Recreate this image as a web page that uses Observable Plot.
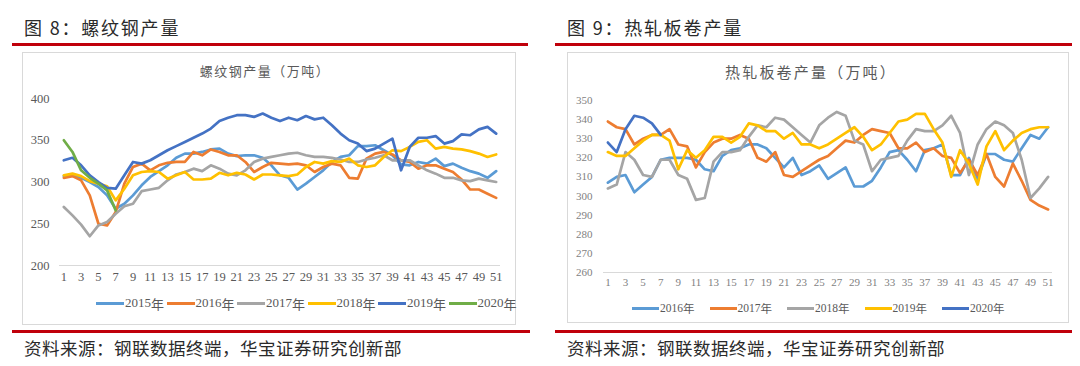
<!DOCTYPE html>
<html>
<head>
<meta charset="utf-8">
<script src="https://cdn.jsdelivr.net/npm/d3@7"></script>
<script src="https://cdn.jsdelivr.net/npm/@observablehq/plot@0.6"></script>
<style>
  html, body { margin: 0; padding: 0; background: #fff; }
  body { width: 1080px; height: 366px; position: relative; overflow: hidden; font-family: "Noto Sans CJK SC", sans-serif; }
  .abs { position: absolute; }
  .title { font-size: 18px; color: #2a2a2a; white-space: nowrap; letter-spacing: 1.8px; }
  .redline { background: #c0000b; height: 3px; }
  .box { border: 1px solid #d9d9d9; box-sizing: border-box; }
  .caption { font-size: 17.5px; color: #2a2a2a; white-space: nowrap; letter-spacing: 0.5px; }
  .inner { color: #595959; white-space: nowrap; text-align: center; }
  .leg { display: flex; align-items: center; white-space: nowrap; font-family: "Liberation Serif", serif; color: #595959; }
  .leg .sw { height: 3px; margin-right: 1px; }
  .leg .cjk { font-family: "Noto Sans CJK SC", sans-serif; }
  svg { position: absolute; overflow: visible; background: transparent; }
</style>
</head>
<body>
<script>
// ---------- categories ----------
const weeks = [1,2,3,4,5,6,7,8,9,10,11,12,13,14,15,16,17,18,19,20,21,22,23,24,25,26,27,28,29,30,31,32,33,34,35,36,37,38,39,40,41,42,43,44,45,46,47,48,49,50,51];
const xTickLabels = [1,3,5,7,9,11,13,15,17,19,21,23,25,27,29,31,33,35,37,39,41,43,45,47,49,51];
const rebarYTicks = [200,250,300,350,400];
const hrcYTicks = [260,270,280,290,300,310,320,330,340,350];

// ---------- 螺纹钢产量（万吨） ----------
const rebarNames = ["2015年","2016年","2017年","2018年","2019年","2020年"];
const rebar2015 = [307,309,305,300,294,284,268,274,284,296,306,313,320,329,334,334,336,339,340,334,331,332,332,329,320,308,305,291,298,306,314,324,330,332,343,343,344,338,332,321,320,324,322,328,319,322,317,313,310,305,313];
const rebar2016 = [305,307,302,284,250,248,264,298,318,322,314,320,323,324,324,336,332,339,336,332,332,324,312,318,323,322,321,322,320,312,318,322,320,305,304,328,334,336,333,326,324,316,320,320,316,312,303,291,291,286,281];
const rebar2017 = [270,260,249,235,248,252,262,271,274,289,291,293,302,309,312,316,313,320,316,310,308,314,324,328,330,332,334,335,332,330,330,329,327,324,324,327,329,332,326,326,326,320,314,310,305,305,302,301,304,302,300];
const rebar2018 = [308,310,307,301,298,295,278,292,308,312,313,312,304,308,312,303,303,304,311,308,311,309,303,309,309,308,307,309,318,324,322,325,324,328,320,318,320,330,338,337,342,348,350,340,342,340,339,337,334,330,333];
const rebar2019 = [326,329,320,308,300,293,292,308,324,322,326,332,338,343,348,353,358,364,373,377,380,380,378,382,377,373,377,374,379,375,377,368,358,350,346,337,340,346,352,314,342,353,353,355,346,349,357,356,363,366,358];
const rebar2020 = [350,336,314,305,298,290,266];
const rebarColors = ["#5b9bd5","#ed7d31","#a5a5a5","#ffc000","#4472c4","#70ad47"];

// ---------- 热轧板卷产量（万吨） ----------
const hrcNames = ["2016年","2017年","2018年","2019年","2020年"];
const hrc2016 = [307,310,311,302,306,310,319,320,320,320,319,314,313,321,324,325,327,327,325,320,315,320,311,313,316,309,312,315,305,305,308,315,323,324,319,313,324,325,327,311,311,320,309,322,322,319,318,325,332,330,336];
const hrc2017 = [339,336,335,327,330,332,332,335,327,326,315,323,328,330,330,332,330,320,318,323,311,310,313,316,319,321,325,329,328,332,335,334,333,325,325,328,323,325,321,320,312,319,311,322,310,305,317,308,298,295,293];
const hrc2018 = [304,306,323,319,311,310,319,319,311,309,298,299,318,323,323,324,331,337,336,341,340,336,332,328,337,341,344,342,329,327,313,319,320,321,329,335,334,334,337,342,333,311,327,335,339,337,333,319,299,304,310];
const hrc2019 = [323,321,321,325,329,332,332,329,314,324,320,324,331,331,328,331,338,337,334,334,330,333,327,327,325,327,330,333,336,331,324,327,333,339,340,343,343,335,328,310,324,317,306,326,334,324,329,333,335,336,336];
const hrc2020 = [328,323,335,342,341,338,332];
const hrcColors = ["#5b9bd5","#ed7d31","#a5a5a5","#ffc000","#4472c4"];

// ---------- helpers ----------
function el(cls, css, text) {
  const d = document.createElement("div");
  d.className = "abs " + cls;
  Object.assign(d.style, css);
  if (text != null) d.textContent = text;
  document.body.appendChild(d);
  return d;
}
function toRows(values) {
  return values.map((v, i) => ({week: weeks[i], value: v}));
}
function chart(cfg) {
  const marks = [
    Plot.ruleY([cfg.yDomain[0]], {stroke: "#d9d9d9", strokeWidth: 1}),
    Plot.axisY(cfg.yTicks, {tickSize: 0, tickPadding: cfg.yPad, label: null}),
    Plot.axisX(xTickLabels, {tickSize: 0, tickPadding: cfg.xPad, label: null})
  ];
  cfg.series.forEach((s, i) => {
    marks.push(Plot.line(toRows(s), {x: "week", y: "value", stroke: cfg.colors[i], strokeWidth: 2.7, strokeLinejoin: "round", strokeLinecap: "round"}));
  });
  const svg = Plot.plot({
    width: cfg.width, height: cfg.height,
    marginLeft: cfg.ml, marginRight: cfg.mr, marginTop: cfg.mt, marginBottom: cfg.mb,
    x: {domain: [0.5, 51.5]},
    y: {domain: cfg.yDomain},
    style: {fontFamily: "'Liberation Serif', serif", fontSize: cfg.fontSize, color: cfg.tickColor, background: "transparent"},
    marks
  });
  svg.style.left = cfg.left + "px";
  svg.style.top = cfg.top + "px";
  document.body.appendChild(svg);
}
function legend(names, colors, left, top, pitch, swW, fontSize) {
  names.forEach((n, i) => {
    const item = el("leg", {left: (left + i * pitch) + "px", top: top + "px", fontSize: fontSize + "px", height: "14px"});
    const sw = document.createElement("span");
    sw.className = "sw";
    sw.style.width = swW + "px";
    sw.style.background = colors[i];
    item.appendChild(sw);
    const t = document.createElement("span");
    t.textContent = n.slice(0, 4);
    item.appendChild(t);
    const c = document.createElement("span");
    c.className = "cjk";
    c.textContent = n.slice(4);
    item.appendChild(c);
  });
}

// ---------- left panel ----------
el("title", {left: "24px", top: "14px"}, "图 8：螺纹钢产量");
el("redline", {left: "12px", top: "43px", width: "516px"});
el("box", {left: "22px", top: "52px", width: "494px", height: "273px"});
el("inner", {left: "165px", top: "61px", width: "200px", fontSize: "13px", letterSpacing: "1.5px"}, "螺纹钢产量（万吨）");
chart({left: 22, top: 52, width: 494, height: 273, ml: 37, mr: 16, mt: 46, mb: 60,
  yDomain: [200, 400], yTicks: rebarYTicks, yPad: 10, xPad: 7, fontSize: "12.5px", tickColor: "#595959",
  series: [rebar2015, rebar2016, rebar2017, rebar2018, rebar2019, rebar2020], colors: rebarColors});
legend(rebarNames, rebarColors, 96, 296, 70.5, 28, 13);
el("redline", {left: "12px", top: "330px", width: "518px"});
el("caption", {left: "24px", top: "335px"}, "资料来源：钢联数据终端，华宝证券研究创新部");

// ---------- right panel ----------
el("title", {left: "567px", top: "14px"}, "图 9：热轧板卷产量");
el("redline", {left: "555px", top: "43px", width: "517px"});
el("box", {left: "567px", top: "52px", width: "502px", height: "271px"});
el("inner", {left: "706px", top: "61px", width: "210px", fontSize: "15px", letterSpacing: "2.2px"}, "热轧板卷产量（万吨）");
chart({left: 567, top: 52, width: 502, height: 271, ml: 36, mr: 17, mt: 48, mb: 51,
  yDomain: [260, 350], yTicks: hrcYTicks, yPad: 11, xPad: 6, fontSize: "11px", tickColor: "#7f7f7f",
  series: [hrc2016, hrc2017, hrc2018, hrc2019, hrc2020], colors: hrcColors});
legend(hrcNames, hrcColors, 632, 301, 77.5, 27, 11.5);
el("redline", {left: "555px", top: "330px", width: "517px"});
el("caption", {left: "567px", top: "335px"}, "资料来源：钢联数据终端，华宝证券研究创新部");
</script>
</body>
</html>
